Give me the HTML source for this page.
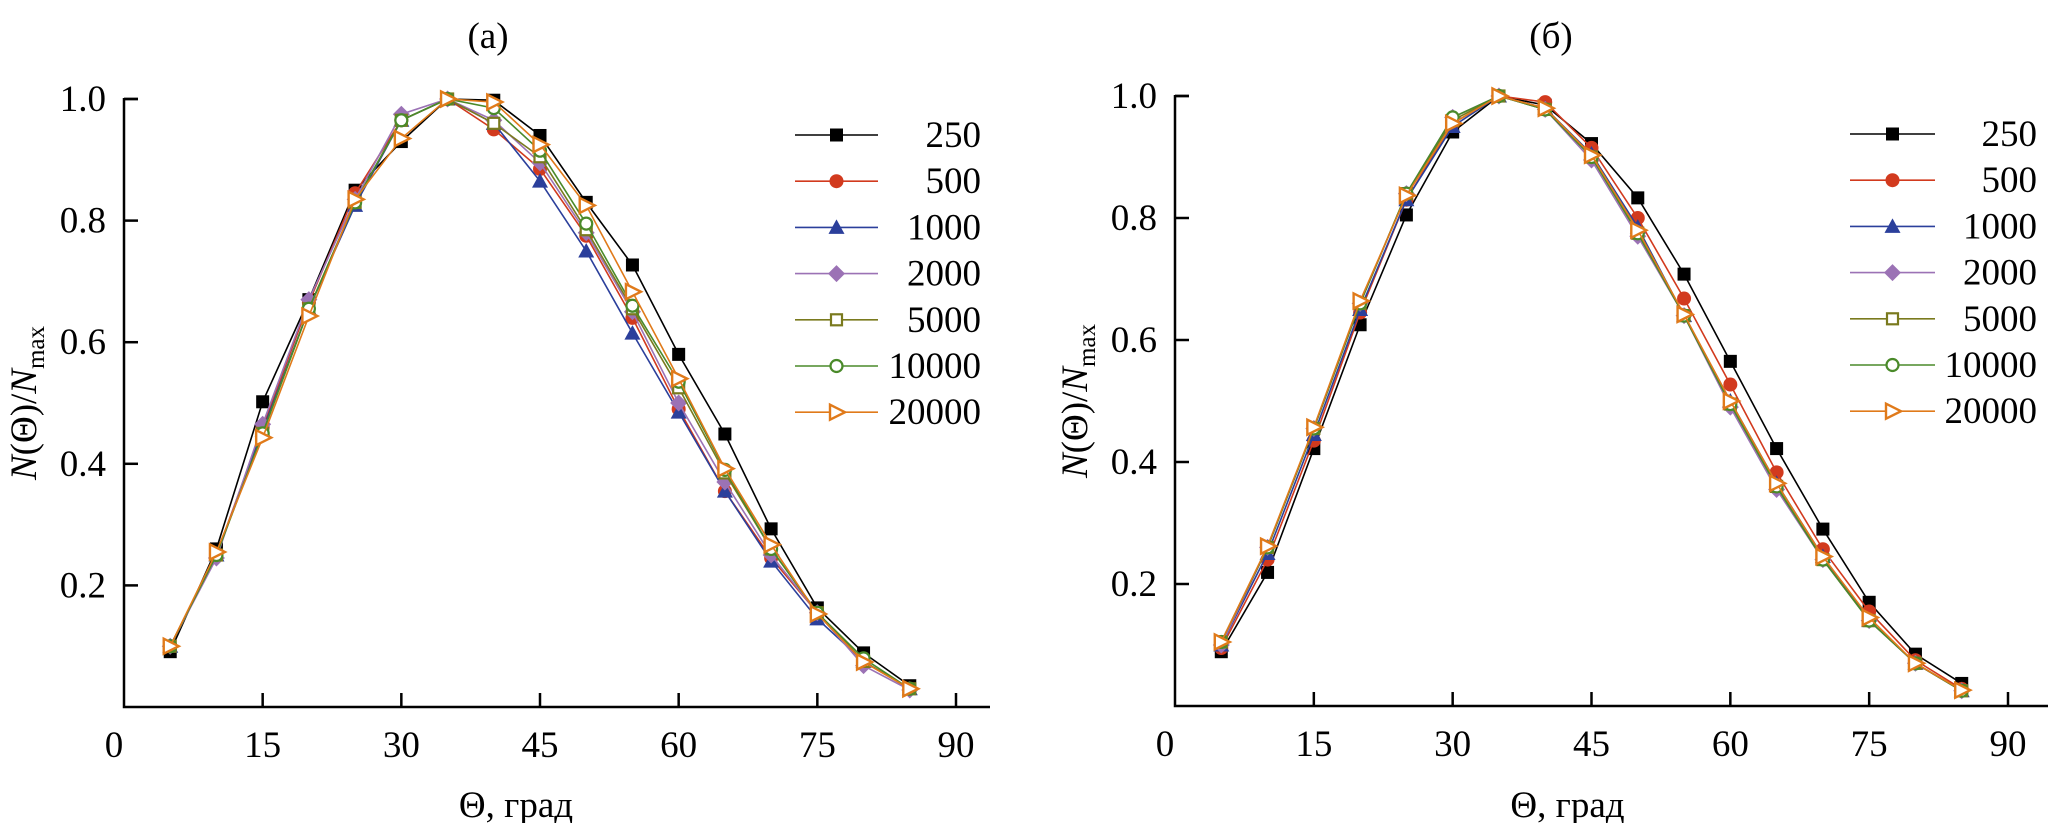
<!DOCTYPE html>
<html><head><meta charset="utf-8"><style>
html,body{margin:0;padding:0;background:#fff}
svg{display:block}
svg text{font-family:"Liberation Serif","DejaVu Serif",serif}
</style></head><body>
<svg id="fig" width="2052" height="823" viewBox="0 0 2052 823" xmlns="http://www.w3.org/2000/svg" font-family="Liberation Serif, serif"></svg>
<script>
const xs = [5,10,15,20,25,30,35,40,45,50,55,60,65,70,75,80,85];
const seriesNames = ['250','500','1000','2000','5000','10000','20000'];
const xTicks = [0,15,30,45,60,75,90];
const yTicks = [0.2,0.4,0.6,0.8,1.0];
const yTickLabels = ['0.2','0.4','0.6','0.8','1.0'];
// panel (a)
const a250 = [0.091,0.26,0.502,0.67,0.85,0.93,1.0,0.998,0.94,0.83,0.727,0.58,0.449,0.293,0.163,0.089,0.035];
const a500 = [0.10,0.25,0.46,0.665,0.845,0.965,1.0,0.95,0.885,0.775,0.64,0.49,0.355,0.245,0.155,0.075,0.03];
const a1000 = [0.10,0.25,0.455,0.655,0.825,0.965,1.0,0.96,0.865,0.75,0.615,0.485,0.355,0.24,0.145,0.075,0.03];
const a2000 = [0.10,0.245,0.465,0.67,0.835,0.975,1.0,0.965,0.895,0.78,0.65,0.5,0.37,0.25,0.155,0.068,0.028];
const a5000 = [0.10,0.25,0.45,0.655,0.83,0.965,1.0,0.96,0.905,0.785,0.655,0.525,0.385,0.26,0.155,0.075,0.03];
const a10000 = [0.10,0.25,0.45,0.655,0.83,0.965,1.0,0.985,0.915,0.795,0.66,0.535,0.39,0.26,0.155,0.08,0.03];
const a20000 = [0.10,0.255,0.443,0.643,0.835,0.935,1.0,0.995,0.925,0.825,0.683,0.54,0.392,0.267,0.153,0.074,0.03];
// panel (б)
const b250 = [0.089,0.219,0.422,0.625,0.805,0.941,1.0,0.985,0.922,0.833,0.708,0.565,0.422,0.29,0.17,0.085,0.037];
const b500 = [0.095,0.24,0.435,0.645,0.83,0.955,1.0,0.99,0.915,0.80,0.668,0.527,0.383,0.257,0.155,0.075,0.028];
const b1000 = [0.10,0.25,0.445,0.65,0.83,0.95,1.0,0.98,0.905,0.785,0.64,0.50,0.365,0.245,0.14,0.07,0.025];
const b2000 = [0.10,0.26,0.455,0.66,0.84,0.965,1.0,0.978,0.895,0.77,0.64,0.49,0.355,0.24,0.14,0.07,0.025];
const b5000 = [0.105,0.26,0.455,0.66,0.84,0.96,1.0,0.978,0.9,0.775,0.64,0.495,0.36,0.24,0.14,0.07,0.025];
const b10000 = [0.105,0.26,0.455,0.66,0.84,0.965,1.0,0.978,0.9,0.775,0.64,0.495,0.36,0.24,0.14,0.07,0.025];
const b20000 = [0.105,0.262,0.457,0.664,0.837,0.955,1.0,0.98,0.903,0.78,0.642,0.5,0.365,0.245,0.145,0.07,0.026];

const colors = ['#000000','#d23a1e','#2b3f9b','#9b72b5','#7a7a1e','#4a8a2a','#e07a1a'];
const markers = ['square','circle','triangle','diamond','osquare','ocircle','otri'];
const NS='http://www.w3.org/2000/svg';
const FONT='"Liberation Serif", "DejaVu Serif", serif';
const svg=document.getElementById('fig');
function el(tag,attrs,parent){const e=document.createElementNS(NS,tag);for(const k in attrs)e.setAttribute(k,attrs[k]);if(tag==='text'){e.setAttribute('font-family',FONT);e.style.fontFamily=FONT;}(parent||svg).appendChild(e);return e;}

function marker(g,type,cx,cy,c){
  let m;
  const s=6.5;
  if(type==='square') m=el('rect',{x:cx-s,y:cy-s,width:2*s,height:2*s,fill:c},g);
  else if(type==='circle') m=el('circle',{cx:cx,cy:cy,r:s+0.5,fill:c},g);
  else if(type==='triangle') m=el('polygon',{points:`${cx},${cy-s-1.5} ${cx+s+1.5},${cy+s} ${cx-s-1.5},${cy+s}`,fill:c},g);
  else if(type==='diamond') m=el('polygon',{points:`${cx},${cy-s-2} ${cx+s+2},${cy} ${cx},${cy+s+2} ${cx-s-2},${cy}`,fill:c},g);
  else if(type==='osquare') m=el('rect',{x:cx-s+1,y:cy-s+1,width:2*s-2,height:2*s-2,fill:'#fff',stroke:c,'stroke-width':2.2},g);
  else if(type==='ocircle') m=el('circle',{cx:cx,cy:cy,r:s-0.5,fill:'#fff',stroke:c,'stroke-width':2.2},g);
  else m=el('polygon',{points:`${cx-s},${cy-s-1} ${cx+s+2},${cy} ${cx-s},${cy+s+1}`,fill:'#fff',stroke:c,'stroke-width':2.4},g);
  return m;
}

function panel(key,P,title,data){
  const g=el('g',{});
  
  
  const X=v=>P.x0+(v/90)*(P.x90-P.x0);
  const Y=v=>P.y0-v*(P.y0-P.y1);
  const t=el('text',{x:P.titleX,y:48,'font-size':37,'text-anchor':'middle'},g);t.textContent=title;
  
  
  const ax=el('path',{d:`M${P.x0},${Y(1.0)-1} V${P.y0} H${P.xEnd}`,stroke:'#000','stroke-width':2.5,fill:'none'},g);
  
  
  el('line',{x1:P.x0,y1:Y(1.0),x2:P.x0+14,y2:Y(1.0),stroke:'#000','stroke-width':2.5},g);
  yTicks.forEach((v,i)=>{
    el('line',{x1:P.x0,y1:Y(v),x2:P.x0+14,y2:Y(v),stroke:'#000','stroke-width':2.5},g);
    const tl=el('text',{x:P.x0-18,y:Y(v)+12,'font-size':37,'text-anchor':'end'},g);
    tl.textContent=yTickLabels[i];
    
    
  });
  xTicks.forEach(v=>{
    if(v>0) el('line',{x1:X(v),y1:P.y0,x2:X(v),y2:P.y0-14,stroke:'#000','stroke-width':2.5},g);
    const tl=el('text',{x:v===0?X(v)-10:X(v),y:P.y0+50,'font-size':37,'text-anchor':'middle'},g);
    tl.textContent=String(v);
    
    
  });
  const xt=el('text',{x:(X(0)+X(90))/2-24,y:817,'font-size':37,'text-anchor':'middle'},g);
  xt.textContent='Θ, град';
  
  
  const yt=el('text',{transform:`translate(${P.x0-88},${(Y(0)+Y(1))/2}) rotate(-90)`,'font-size':37,'text-anchor':'middle'},g);
  
  
  yt.innerHTML='<tspan font-style="italic">N</tspan>(Θ)/<tspan font-style="italic">N</tspan><tspan font-size="25" dy="8">max</tspan>';
  data.forEach((arr,si)=>{
    const sg=el('g',{},g);
    
    
    const pts=arr.map((v,i)=>`${X(xs[i])},${Y(v)}`).join(' ');
    el('polyline',{points:pts,fill:'none',stroke:colors[si],'stroke-width':1.6},sg);
    arr.forEach((v,i)=>{
      const m=marker(sg,markers[si],X(xs[i]),Y(v),colors[si]);
      
      
    });
    const ly=P.legY0+si*46.2;
    const lg=el('g',{},g);
    
    
    el('line',{x1:P.legX1,y1:ly,x2:P.legX2,y2:ly,stroke:colors[si],'stroke-width':1.6},lg);
    marker(lg,markers[si],(P.legX1+P.legX2)/2,ly,colors[si]);
    const lt=el('text',{x:P.legTX,y:ly+12,'font-size':37,'text-anchor':'end'},lg);
    lt.textContent=seriesNames[si];
  });
}
panel('a',{x0:124,x90:956,xEnd:990,y0:707,y1:99,titleX:488,legY0:135,legX1:795,legX2:878,legTX:981},'(a)',[a250,a500,a1000,a2000,a5000,a10000,a20000]);
panel('b',{x0:1175,x90:2008,xEnd:2048,y0:706,y1:96,titleX:1551,legY0:134,legX1:1850,legX2:1935,legTX:2037},'(б)',[b250,b500,b1000,b2000,b5000,b10000,b20000]);
</script>
</body></html>
